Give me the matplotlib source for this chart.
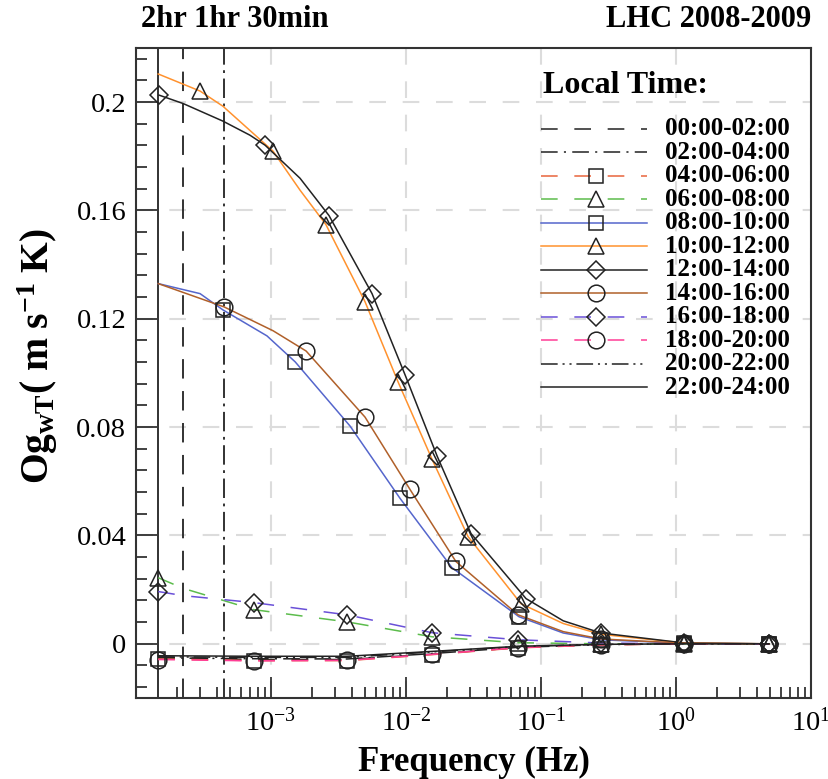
import matplotlib
matplotlib.use('Agg')
import matplotlib.pyplot as plt
from matplotlib.ticker import LogLocator, MultipleLocator, FixedLocator

# --- fonts: Times-like serif everywhere ---
plt.rcParams['font.family'] = ['Liberation Serif', 'DejaVu Serif']
plt.rcParams['mathtext.fontset'] = 'custom'
plt.rcParams['mathtext.rm'] = 'Liberation Serif'
plt.rcParams['mathtext.it'] = 'Liberation Serif:italic'
plt.rcParams['mathtext.bf'] = 'Liberation Serif:bold'
plt.rcParams['lines.scale_dashes'] = False

# --- data ---
# shared frequencies for the small / near-zero curves
f_small = [1.46e-4, 7.48e-4, 3.66e-3, 1.56e-2, 6.76e-2, 0.278, 1.14, 4.89]
v_0002 = [-0.0050, -0.0058, -0.0058, -0.0038, -0.0014, -0.0003, 0.0, 0.0]
v_0204 = [-0.0052, -0.0055, -0.0056, -0.0036, -0.0013, -0.0003, 0.0, 0.0]
v_0406 = [-0.0056, -0.0062, -0.0062, -0.0040, -0.0015, -0.0004, 0.0, 0.0]
v_1820 = [-0.0058, -0.0063, -0.0061, -0.0039, -0.0014, -0.0003, 0.0, 0.0]
v_2022 = [-0.0048, -0.0050, -0.0050, -0.0030, -0.0010, -0.0002, 0.0, 0.0]
v_2224 = [-0.0044, -0.0046, -0.0046, -0.0028, -0.0009, -0.0002, 0.0, 0.0]

f_0608 = [1.46e-4, 2.23e-4, 7.48e-4, 3.66e-3, 1.56e-2, 6.76e-2, 0.278, 1.14, 4.89]
v_0608 = [0.0244, 0.0205, 0.0126, 0.0081, 0.0026, 0.0004, 0.0, 0.0, 0.0]
f_1618 = [1.46e-4, 2.23e-4, 7.48e-4, 3.66e-3, 1.56e-2, 6.76e-2, 0.278, 1.14, 4.89]
v_1618 = [0.0193, 0.0178, 0.0152, 0.0107, 0.0041, 0.0015, 0.0003, 0.0, 0.0]
m_dashed = [0, 2, 3, 4, 5, 6, 7, 8]

f_0810 = [1.46e-4, 2.98e-4, 4.40e-4, 9.33e-4, 1.51e-3, 3.85e-3, 9.03e-3,
          2.19e-2, 6.87e-2, 0.146, 0.278, 1.15, 4.89]
v_0810 = [0.1330, 0.1293, 0.1233, 0.1137, 0.1041, 0.0804, 0.0537,
          0.0281, 0.0100, 0.0040, 0.0015, 0.0002, 0.0]
m_0810 = [2, 4, 5, 6, 7, 8, 10, 11, 12]

f_1416 = [1.46e-4, 4.49e-4, 1.035e-3, 1.82e-3, 4.97e-3, 1.07e-2, 2.34e-2,
          6.76e-2, 0.146, 0.278, 1.15, 4.89]
v_1416 = [0.1330, 0.1244, 0.1156, 0.1081, 0.0837, 0.0570, 0.0304,
          0.0107, 0.0045, 0.0018, 0.0002, 0.0]
m_1416 = [1, 3, 4, 5, 6, 7, 9, 10, 11]

f_1012 = [1.46e-4, 2.98e-4, 4.40e-4, 1.035e-3, 1.64e-3, 2.55e-3, 4.97e-3,
          8.73e-3, 1.56e-2, 2.88e-2, 7.11e-2, 0.146, 0.278, 1.15, 4.89]
v_1012 = [0.2104, 0.2041, 0.1985, 0.1819, 0.1675, 0.1548, 0.1263,
          0.0967, 0.0681, 0.0396, 0.0148, 0.0075, 0.0035, 0.0003, 0.0]
m_1012 = [1, 3, 5, 6, 7, 8, 9, 10, 12, 13, 14]

f_1214 = [1.48e-4, 2.23e-4, 4.40e-4, 6.98e-4, 9.04e-4, 1.64e-3, 2.69e-3,
          5.60e-3, 9.84e-3, 1.70e-2, 3.03e-2, 7.74e-2, 0.146, 0.278, 1.15, 4.89]
v_1214 = [0.2026, 0.1995, 0.1930, 0.1878, 0.1841, 0.1719, 0.1581,
          0.1293, 0.0993, 0.0693, 0.0407, 0.0167, 0.0085, 0.0040, 0.0003, 0.0]
m_1214 = [0, 4, 6, 7, 8, 9, 10, 11, 13, 14, 15]

# averaging periods marked with vertical lines (Hz)
f_marks = [1.46e-4, 2.23e-4, 4.49e-4]

labels = ['00:00-02:00', '02:00-04:00', '04:00-06:00', '06:00-08:00',
          '08:00-10:00', '10:00-12:00', '12:00-14:00', '14:00-16:00',
          '16:00-18:00', '18:00-20:00', '20:00-22:00', '22:00-24:00']

x_ticks = [1e-4, 1e-3, 1e-2, 1e-1, 1e0, 1e1]
x_ticklabels = ['', r'$\mathdefault{10^{-3}}$', r'$\mathdefault{10^{-2}}$',
                r'$\mathdefault{10^{-1}}$', r'$\mathdefault{10^{0}}$',
                r'$\mathdefault{10^{1}}$']
y_ticks = [0, 0.04, 0.08, 0.12, 0.16, 0.2]
y_ticklabels = ['0', '0.04', '0.08', '0.12', '0.16', '0.2']

# --- styles ---
DASH = (0, (12, 12))
DASHDOT = (0, (12, 4.5, 1.5, 4.5))
DASHDOTDOT = (0, (12, 3.5, 1.5, 3.5, 1.5, 3.5))
c_black = '#222222'
c_red = '#e8643c'
c_green = '#5cbc4c'
c_blue = '#5566cc'
c_orange = '#ff922e'
c_brown = '#b0602a'
c_purple = '#6a50d8'
c_pink = '#ff3d96'

series = [
    (f_small, v_0002, c_black, DASH, None, None),
    (f_small, v_0204, c_black, DASHDOT, None, None),
    (f_small, v_0406, c_red, DASH, 's', None),
    (f_0608, v_0608, c_green, DASH, '^', m_dashed),
    (f_0810, v_0810, c_blue, '-', 's', m_0810),
    (f_1012, v_1012, c_orange, '-', '^', m_1012),
    (f_1214, v_1214, c_black, '-', 'D', m_1214),
    (f_1416, v_1416, c_brown, '-', 'o', m_1416),
    (f_1618, v_1618, c_purple, DASH, 'D', m_dashed),
    (f_small, v_1820, c_pink, DASH, 'o', None),
    (f_small, v_2022, c_black, DASHDOTDOT, None, None),
    (f_small, v_2224, c_black, '-', None, None),
]
msize = {'s': 10, '^': 11, 'D': 9, 'o': 12}

fig = plt.figure(figsize=(8.29, 7.79), dpi=100)
ax = fig.add_axes([0.1641, 0.1040, 0.8142, 0.8344])

for f, v, col, ls, mk, mev in series:
    ax.plot(f, v, color=col, ls=ls, lw=1.1, zorder=3)
    if mk is not None:
        ax.plot(f, v, ls='none', marker=mk, ms=msize[mk], mfc='none',
                mec='#222222', mew=1.1, markevery=mev, zorder=4)

# vertical lines: 2hr, 1hr, 30min
ax.axvline(f_marks[0], color=c_black, lw=1.3, zorder=2)
ax.axvline(f_marks[1], color=c_black, lw=1.3, ls=(0, (14, 9)), zorder=2)
ax.axvline(f_marks[2], color=c_black, lw=1.3, ls=(0, (14, 4, 2, 4)), zorder=2)

# --- axes ---
ax.set_xscale('log')
ax.set_xlim(1e-4, 10)
ax.set_ylim(-0.02, 0.22)
ax.set_xticks(x_ticks)
ax.set_xticklabels(x_ticklabels)
ax.xaxis.set_minor_locator(LogLocator(base=10, subs=range(2, 10), numticks=20))
ax.yaxis.set_major_locator(FixedLocator(y_ticks))
ax.yaxis.set_minor_locator(MultipleLocator(0.008))
ax.set_yticklabels(y_ticklabels)
ax.tick_params(which='both', direction='in', top=False, right=False,
               width=1.2, colors='#222222', labelcolor='black')
ax.tick_params(which='major', length=15, pad=7, labelsize=20.5)
ax.tick_params(which='minor', length=8)
for sp in ax.spines.values():
    sp.set_linewidth(1.5)
    sp.set_color('#333333')
ax.grid(True, which='major', color='#dcdcdc', lw=1.5, ls=(0, (12, 12)), zorder=0)

ax.set_xlabel('Frequency (Hz)', fontsize=25, fontweight='bold', labelpad=7)
ax.set_ylabel(r'$\mathbf{Og_{wT}(\ m\ s^{-1}\ K)}$', fontsize=28.5)
ax.yaxis.set_label_coords(-0.112, 0.526)

fig.text(0.17, 0.975, '2hr 1hr 30min', fontsize=22, fontweight='bold',
         va='center', ha='left')
fig.text(0.978, 0.975, 'LHC 2008-2009', fontsize=22, fontweight='bold',
         va='center', ha='right')

# --- legend drawn by hand (compact rows like the original) ---
ax.text(0.603, 0.943, 'Local Time:', transform=ax.transAxes, fontsize=23,
        fontweight='bold', va='center', ha='left')
for i, (lab, s) in enumerate(zip(labels, series)):
    col, ls, mk = s[2], s[3], s[4]
    y = (698 - (128.7 + 23.5 * i)) / 650
    ax.plot([0.600, 0.757], [y, y], transform=ax.transAxes, color=col,
            ls=ls, lw=1.1, clip_on=False, zorder=5)
    if mk is not None:
        ax.plot([0.6815], [y], transform=ax.transAxes, marker=mk,
                ms=msize[mk], mfc='none', mec='#222222', mew=1.1,
                clip_on=False, zorder=6)
    ax.text(0.7837, y, lab, transform=ax.transAxes, fontsize=18,
            fontweight='bold', va='center', ha='left')

fig.savefig('out.png', dpi=100)
